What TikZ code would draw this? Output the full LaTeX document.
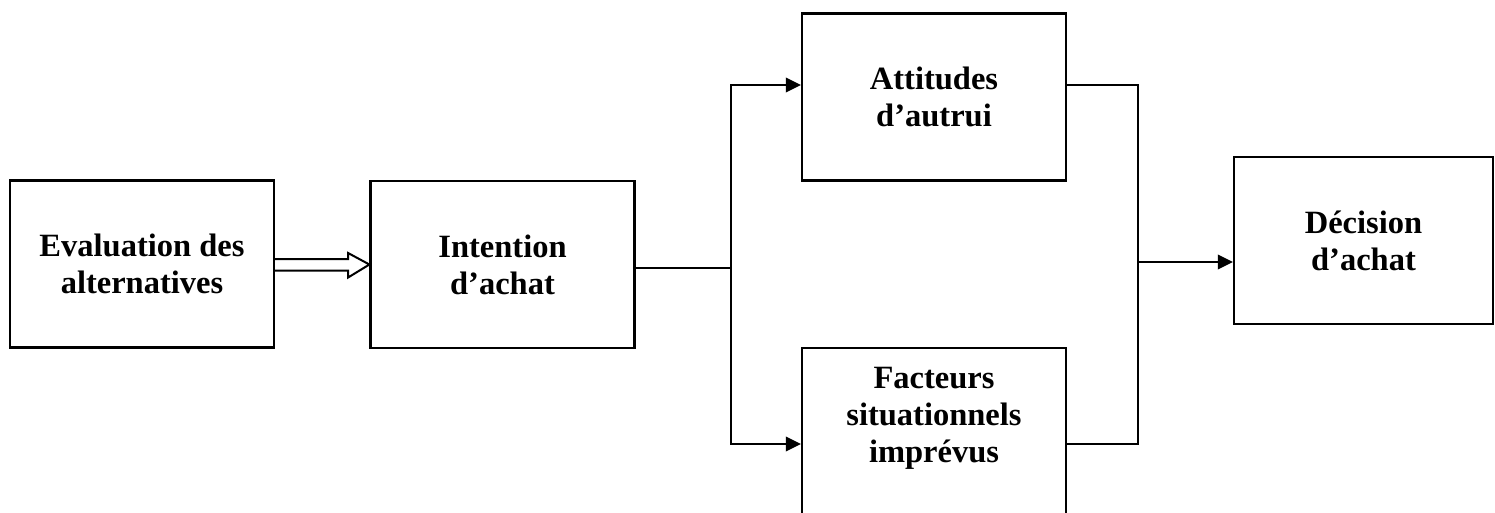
\documentclass[tikz,border=0pt]{standalone}
\usepackage{fontspec}
\setmainfont{Liberation Serif}
\usetikzlibrary{arrows.meta,calc}
\begin{document}
\begin{tikzpicture}[x=0.02cm,y=-0.02cm,
  box/.style={draw, line width=0.045cm, minimum width=5.28cm, minimum height=3.34cm,
    align=center, inner sep=0pt, font=\bfseries\fontsize{18.5}{21}\selectfont},
  txt/.style={align=center, inner sep=0pt, font=\bfseries\fontsize{18.5}{21}\selectfont},
  conn/.style={line width=0.04cm},
  arr/.style={conn, -{Triangle[length=0.3cm,width=0.29cm]}}]
\useasboundingbox (0,0) rectangle (1495,512);
\node[box] (b1) at (142,264) {Evaluation des\\alternatives};
\node[box] (b2) at (502.5,264.5) {Intention\\d’achat};
\node[box] (b3) at (934,97) {Attitudes\\d’autrui};
\node[box, minimum height=3.44cm] (b4) at (934,434) {};
\node[txt] (t4) at (934,418) {Facteurs\\situationnels\\imprévus};
\node[box, minimum width=5.18cm] (b5) at (1363.5,240.5) {Décision\\d’achat};
% double (hollow) arrow
\draw[conn, line join=miter]
  ($(b1.east)+(0,-5)$) -- ++(73,0) -- ++(0,-6) -- ($(b2.west)+(0,0)$)
  -- ($(b1.east)+(73,13.5)$) -- ++(0,-7) -- ($(b1.east)+(0,6.5)$);
% junctions
\coordinate (j1) at (731,268);
\coordinate (j2) at (1138,262);
\coordinate (p3) at ($(b3.west)+(0,-12)$);
\coordinate (p4) at ($(b4.west)+(0,10)$);
\coordinate (q3) at ($(b3.east)+(0,-12)$);
\coordinate (q4) at ($(b4.east)+(0,10)$);
\draw[conn] (b2.east |- j1) -- (j1);
\draw[arr] (j1) |- (p3);
\draw[arr] (j1) |- (p4);
\draw[conn] (q3) -| (j2);
\draw[conn] (q4) -| (j2);
\draw[arr] (j2) -- (b5.west |- j2);
\end{tikzpicture}
\end{document}
